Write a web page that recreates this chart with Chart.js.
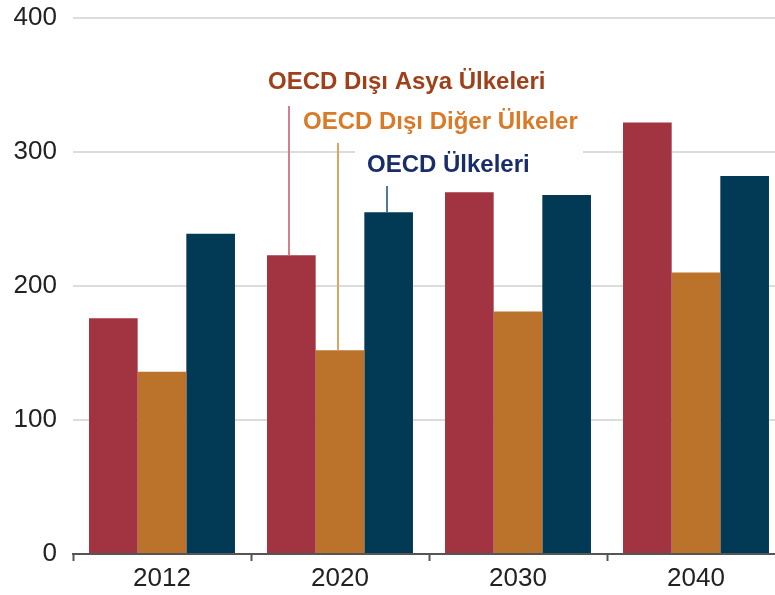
<!DOCTYPE html>
<html>
<head>
<meta charset="utf-8">
<script src="https://cdn.jsdelivr.net/npm/chart.js@4/dist/chart.umd.min.js"></script>
<style>
  html, body { margin: 0; padding: 0; background: #fff; overflow: hidden; }
  #wrap { width: 785px; height: 595px; position: relative; }
</style>
</head>
<body>
<div id="wrap"><canvas id="chart"></canvas></div>
<script>
const years = ["2012", "2020", "2030", "2040"];

const seriesNames = [
  "OECD Dışı Asya Ülkeleri",
  "OECD Dışı Diğer Ülkeler",
  "OECD Ülkeleri",
];

const nonOecdAsia = [176, 223, 270, 322];
const nonOecdOther = [136, 152, 181, 210];
const oecd = [239, 255, 268, 282];

const yTicks = [0, 100, 200, 300, 400];

const barColors = ["#a23340", "#bb732b", "#023a55"];
const labelColors = ["#a0401a", "#d97a28", "#1a2d6b"];
const leaderColors = ["#d4808b", "#dba565", "#4f7a92"];

const FONT = "'Liberation Sans', Arial, sans-serif";

// text labels with leader lines down to the 2020 bars
const calloutPlugin = {
  id: "callouts",
  afterDatasetsDraw(chart) {
    const ctx = chart.ctx;
    ctx.save();

    // white box behind the OECD label (it breaks the 300 gridline)
    ctx.fillStyle = "#fff";
    ctx.fillRect(355, 143, 228, 40);

    const textPos = [
      { x: 268, y: 82, lineTop: 106 },
      { x: 303, y: 122, lineTop: 143 },
      { x: 367, y: 165, lineTop: 186 },
    ];

    ctx.font = "bold 24px " + FONT;
    ctx.textAlign = "left";
    ctx.textBaseline = "middle";
    seriesNames.forEach((name, i) => {
      ctx.fillStyle = labelColors[i];
      ctx.fillText(name, textPos[i].x, textPos[i].y);

      const bar = chart.getDatasetMeta(i).data[1];
      ctx.strokeStyle = leaderColors[i];
      ctx.lineWidth = 2;
      ctx.beginPath();
      ctx.moveTo(Math.round(bar.x) - 2, textPos[i].lineTop);
      ctx.lineTo(Math.round(bar.x) - 2, bar.y);
      ctx.stroke();
    });

    ctx.restore();
  },
};

new Chart(document.getElementById("chart").getContext("2d"), {
  type: "bar",
  data: {
    labels: years,
    datasets: [nonOecdAsia, nonOecdOther, oecd].map((values, i) => ({
      label: seriesNames[i],
      data: values,
      backgroundColor: barColors[i],
      borderWidth: 0,
      categoryPercentage: 0.82,
      barPercentage: 1.0,
    })),
  },
  options: {
    responsive: true,
    maintainAspectRatio: false,
    animation: false,
    devicePixelRatio: 1,
    layout: { padding: { top: 18, right: 0, bottom: 0, left: 0 } },
    plugins: {
      legend: { display: false },
      tooltip: { enabled: false },
    },
    scales: {
      x: {
        grid: {
          display: true,
          drawOnChartArea: false,
          drawTicks: true,
          tickLength: 7,
          tickWidth: 2,
          tickColor: "#555",
          offset: true,
        },
        border: { display: true, color: "#555", width: 2 },
        ticks: {
          color: "#222",
          font: { family: FONT, size: 26 },
          padding: 2,
        },
        afterFit(scale) {
          scale.height = 41;
          scale.paddingLeft = 0;
          scale.paddingRight = 0;
        },
      },
      y: {
        min: 0,
        max: 400,
        afterBuildTicks(scale) {
          scale.ticks = yTicks.map((v) => ({ value: v }));
        },
        grid: {
          color: "#dcdcdc",
          lineWidth: 2,
          drawTicks: false,
        },
        border: { display: false },
        ticks: {
          color: "#222",
          font: { family: FONT, size: 26 },
          padding: 16,
        },
        afterFit(scale) {
          scale.width = 73;
          scale.paddingTop = 0;
          scale.paddingBottom = 0;
        },
      },
    },
  },
  plugins: [calloutPlugin],
});
</script>
</body>
</html>
